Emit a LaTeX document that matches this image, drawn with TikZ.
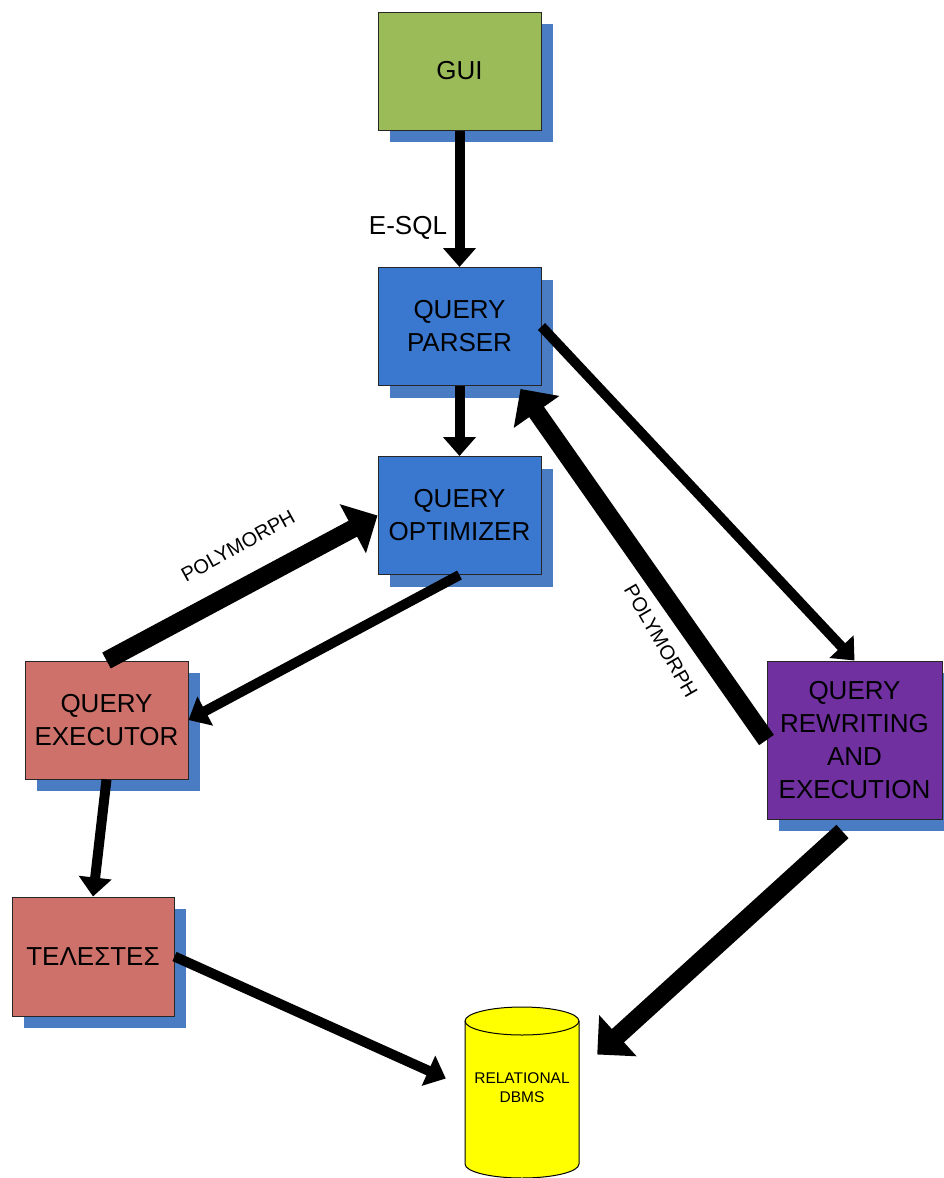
\documentclass[tikz,border=0pt]{standalone}
\usepackage{fontspec}
\setmainfont{Liberation Sans}
\usetikzlibrary{arrows.meta,shadows,calc}

\definecolor{guigreen}{HTML}{9BBB59}
\definecolor{qblue}{HTML}{3A78CF}
\definecolor{shadowblue}{HTML}{4A7CC3}
\definecolor{execred}{HTML}{CD716A}
\definecolor{rewpurple}{HTML}{7030A0}
\definecolor{dbyellow}{HTML}{FFFF00}

\tikzset{
  box/.style={draw=black!85, line width=1pt, minimum width=163pt, minimum height=118pt,
    inner sep=0pt, align=center, font=\fontsize{26}{33}\selectfont,
    drop shadow={shadow xshift=12pt, shadow yshift=-12pt, fill=shadowblue, opacity=1}},
  slimarrow/.style={line width=10pt, -{Triangle[width=32pt,length=19pt]}},
  boldarrow/.style={line width=18pt, -{Triangle[width=54pt,length=28pt]}},
  smalllabel/.style={font=\fontsize{20}{24}\selectfont, inner sep=0pt},
}

\begin{document}
\begin{tikzpicture}[x=1pt, y=-1pt]
  \useasboundingbox (0,0) rectangle (943,1178);

  % processing stages
  \node[box, fill=guigreen] (gui) at (459.5,71) {GUI};
  \node[box, fill=qblue] (parser) at (459.5,326.5) {QUERY\\PARSER};
  \node[box, fill=qblue] (opt) at (459.5,515.5) {QUERY\\OPTIMIZER};
  \node[box, fill=execred] (exec) at (106.5,720) {QUERY\\EXECUTOR};
  \node[box, fill=execred, minimum width=162pt, minimum height=119pt] (tel) at (93,956.5) {ΤΕΛΕΣΤΕΣ};
  \node[box, fill=rewpurple, minimum width=175pt, minimum height=158pt] (rew) at (854.5,740)
    {QUERY\\REWRITING\\AND\\EXECUTION};

  % relational database cylinder
  \node[minimum width=114pt, minimum height=171pt, inner sep=0pt] (db) at (522,1092.5) {};
  \filldraw[fill=dbyellow, draw=black, line width=1pt]
    (465,1021) -- (465,1164) arc[start angle=180, end angle=360, x radius=57pt, y radius=14pt]
    -- (579,1021) arc[start angle=0, end angle=180, x radius=57pt, y radius=14pt] -- cycle;
  \draw[line width=1pt] (465,1021) arc[start angle=180, end angle=360, x radius=57pt, y radius=14pt];
  \node[align=center, font=\fontsize{15.5}{19}\selectfont, inner sep=0pt] (dblabel) at (522,1088)
    {RELATIONAL\\DBMS};

  % data flow
  \draw[slimarrow] (gui.south) -- (parser.north);
  \draw[slimarrow] (parser.south) -- (opt.north);
  \draw[boldarrow] (exec.north) -- (opt.west);
  \draw[slimarrow] (opt.south) -- (exec.east);
  \draw[slimarrow] (parser.east) -- (rew.north);
  \draw[boldarrow] (rew.west) -- ($(parser.south east)+(-21,3)$);
  \draw[slimarrow] (exec.south) -- (tel.north);
  \draw[slimarrow] (tel.east) -- ($(db.west)+(-19,-14)$);
  \draw[boldarrow] ($(rew.south)+(-12,12)$) -- ($(db.east)+(18,-38)$);

  % connector labels
  \node[font=\fontsize{26}{30}\selectfont, inner sep=0pt] (esql) at (408,228) {E-SQL};
  \node[smalllabel, rotate=29] (poly1) at (238,546) {POLYMORPH};
  \node[smalllabel, rotate=-60] (poly2) at (661,641) {POLYMORPH};
\end{tikzpicture}
\end{document}
